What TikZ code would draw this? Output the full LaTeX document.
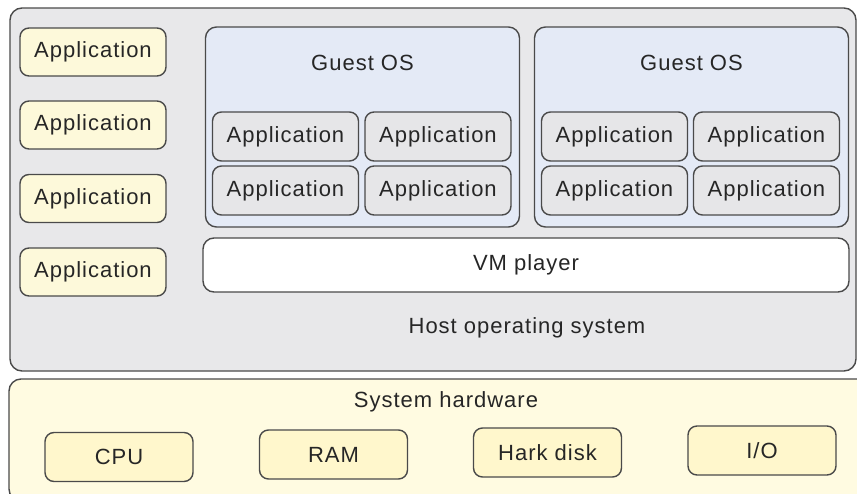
\documentclass[tikz,border=0pt]{standalone}
\usepackage{fontspec}
\setmainfont{Liberation Sans}[LetterSpace=4.5]
\definecolor{edge}{HTML}{4A4A4A}
\definecolor{hostfill}{HTML}{E8E8EA}
\definecolor{guestfill}{HTML}{E4EAF6}
\definecolor{appfill}{HTML}{FDF9DA}
\definecolor{hwfill}{HTML}{FFFBE1}
\definecolor{hwitem}{HTML}{FFF7CC}
\definecolor{vmapp}{HTML}{E6E6E8}
\definecolor{txt}{HTML}{262626}
\begin{document}
\begin{tikzpicture}[x=1pt,y=-1pt,
  every node/.style={font=\fontsize{22}{26}\selectfont, text=txt},
  box/.style={draw=edge, line width=1.4pt, rounded corners=9pt, inner sep=0pt},
  hostapp/.style={box, fill=appfill, minimum width=146pt, minimum height=48pt},
  guestapp/.style={box, fill=vmapp, minimum width=146pt, minimum height=49pt},
  guestos/.style={box, fill=guestfill, rounded corners=11pt, minimum width=314pt, minimum height=200pt},
  hwpart/.style={box, fill=hwitem, minimum width=148pt, minimum height=49pt},
  label/.style={inner sep=0pt}]
\useasboundingbox (0,0) rectangle (857,493);
\begin{scope}
\clip (0,0) rectangle (857,493);
% host operating system and system hardware layers
\node[box, fill=hostfill, rounded corners=12pt, minimum width=846pt, minimum height=363pt] (host) at (433,189.5) {};
\node[box, fill=hwfill, rounded corners=12pt, minimum width=870pt, minimum height=122pt] (hw) at (444,440) {};
\end{scope}
\node[label] (hostlbl) at (527,328) {Host operating system};
\node[label] (hwlbl) at (446,402) {System hardware};

% applications running directly on the host
\node[hostapp] (a1) at (93,52) {Application};
\node[hostapp] (a2) at (93,125) {Application};
\node[hostapp] (a3) at (93,198.5) {Application};
\node[hostapp] (a4) at (93,272) {Application};

% guest operating systems
\node[guestos] (g1) at (362.5,127) {};
\node[guestos] (g2) at (691.5,127) {};
\node[label] (g1lbl) at (362.5,63) {Guest OS};
\node[label] (g2lbl) at (691.5,63) {Guest OS};

\node[guestapp] (g1a) at (285.5,136.5) {Application};
\node[guestapp] (g1b) at (438,136.5) {Application};
\node[guestapp] (g1c) at (285.5,190.5) {Application};
\node[guestapp] (g1d) at (438,190.5) {Application};

\node[guestapp] (g2a) at (614.5,136.5) {Application};
\node[guestapp] (g2b) at (766.5,136.5) {Application};
\node[guestapp] (g2c) at (614.5,190.5) {Application};
\node[guestapp] (g2d) at (766.5,190.5) {Application};

% virtualization layer
\node[box, fill=white, rounded corners=11pt, minimum width=646pt, minimum height=54pt] (vm) at (526,265) {VM player};

% hardware components
\node[hwpart] (cpu) at (119,457) {CPU};
\node[hwpart] (ram) at (333.5,454.5) {RAM};
\node[hwpart] (disk) at (547.5,452.5) {Hark disk};
\node[hwpart] (io) at (762,450.5) {I/O};
\end{tikzpicture}
\end{document}
